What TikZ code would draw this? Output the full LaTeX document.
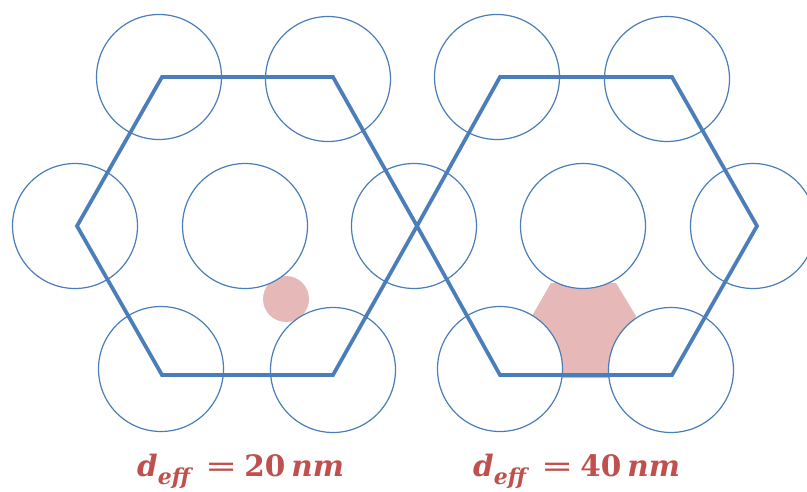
\documentclass[tikz,border=0pt]{standalone}
\usepackage{fontspec}
\newfontfamily\labfont{DejaVu Serif}
\definecolor{hexblue}{HTML}{4A7EBB}
\definecolor{pinkfill}{HTML}{E6B9B8}
\definecolor{labred}{HTML}{C0504D}
\newcommand{\efflab}[1]{\labfont\bfseries\textit{d}\raisebox{-8pt}{\fontsize{22}{25}\selectfont\textit{eff}}\hspace{12pt}{\mdseries\scalebox{1.3}[1]{=}}\hspace{7pt}#1\hspace{6pt}\textit{nm}}
\begin{document}
\begin{tikzpicture}[x=1pt,y=-1pt,
  ball/.style={circle,draw=hexblue,line width=1.2pt,fill=white,minimum size=125pt,inner sep=0pt},
  hexline/.style={draw=hexblue,line width=3.6pt,line join=miter},
  hexshadow/.style={draw=black,opacity=0.15,line width=4pt,line join=miter},
  lab/.style={text=labred,font=\fontsize{29.5}{35}\selectfont,inner sep=0pt,anchor=base west}]
\useasboundingbox (0,0) rectangle (807,491);
% pink regions
\node[circle,fill=pinkfill,minimum size=46pt,inner sep=0pt] (pc) at (286,299) {};
\fill[pinkfill] (551,283) -- (616,283) -- (636,316) -- (614,378) -- (556,378) -- (532,316) -- cycle;
% circles left
\node[ball] (c1) at (159,77) {};
\node[ball] (c2) at (328,79) {};
\node[ball] (c3) at (75,226) {};
\node[ball] (c4) at (245,226) {};
\node[ball] (c5) at (414,226) {};
\node[ball] (c6) at (161,369) {};
\node[ball] (c7) at (333,370) {};
% circles right
\node[ball] (d1) at (497,77) {};
\node[ball] (d2) at (667,79) {};
\node[ball] (d4) at (583,226) {};
\node[ball] (d5) at (753,226) {};
\node[ball] (d6) at (500,369) {};
\node[ball] (d7) at (671,370) {};
% hexagon vertices
\coordinate (a1) at (162,77); \coordinate (a2) at (333,77); \coordinate (a3) at (417,226);
\coordinate (a4) at (333,375); \coordinate (a5) at (162,375); \coordinate (a6) at (77,226);
\coordinate (b1) at (500,77); \coordinate (b2) at (672,77); \coordinate (b3) at (757,226);
\coordinate (b4) at (672,375); \coordinate (b5) at (500,375); \coordinate (b6) at (417,226);
% shadows
\begin{scope}[shift={(1.5,2)}]
\draw[hexshadow] (a1) -- (a2) -- (a3) -- (a4) -- (a5) -- (a6) -- cycle;
\draw[hexshadow] (b1) -- (b2) -- (b3) -- (b4) -- (b5) -- (b6) -- cycle;
\end{scope}
\draw[hexline] (a1) -- (a2) -- (a3) -- (a4) -- (a5) -- (a6) -- cycle;
\draw[hexline] (b1) -- (b2) -- (b3) -- (b4) -- (b5) -- (b6) -- cycle;
% labels
\node[lab] (l1) at (137,476) {\efflab{20}};
\node[lab] (l2) at (473,476) {\efflab{40}};
\end{tikzpicture}
\end{document}
